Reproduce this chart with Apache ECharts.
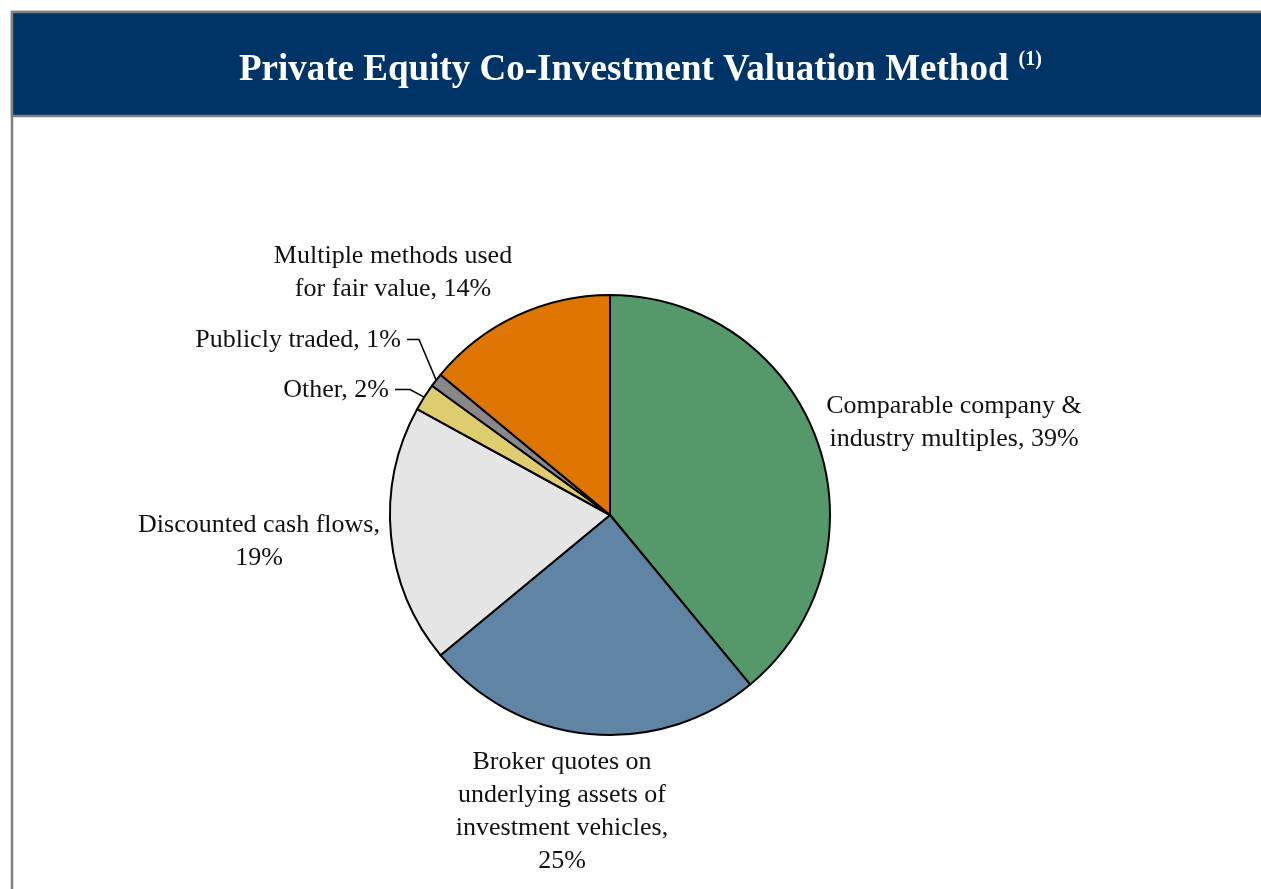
<!DOCTYPE html>
<html>
<head>
<meta charset="utf-8">
<title>Private Equity Co-Investment Valuation Method</title>
<script src="https://cdn.jsdelivr.net/npm/echarts@6/dist/echarts.min.js"></script>
<style>
  html, body { margin: 0; padding: 0; background: #fff; }
  #chart { width: 1261px; height: 889px; }
</style>
</head>
<body>
<div id="chart"></div>
<script>
// slices, clockwise from 12 o'clock
var categories = [
  'Comparable company &\nindustry multiples',
  'Broker quotes on\nunderlying assets of\ninvestment vehicles',
  'Discounted cash flows',
  'Other',
  'Publicly traded',
  'Multiple methods used\nfor fair value'
];
var shares = [39, 25, 19, 2, 1, 14];
// what goes between the name and the percentage
var valueBreak = [' ', '\n', '\n', ' ', ' ', ' '];
var sliceColors = ['#55996a', '#6084a4', '#e5e5e5', '#decd6e', '#888888', '#dd7500'];

var serif = "'Liberation Serif', 'Times New Roman', serif";

// label anchors (px) and which ones get a leader line
var labelSpots = {
  0: { x: 954, y: 423, align: 'center' },
  1: { x: 562, y: 812, align: 'center' },
  2: { x: 259, y: 542, align: 'center' },
  3: { x: 389, y: 390, align: 'right', corner: [410, 389.5], end: [395, 389.5] },
  4: { x: 401, y: 340, align: 'right', corner: [419, 339.5], end: [407, 339.5] },
  5: { x: 393, y: 273, align: 'center' }
};

var pieData = [];
for (var i = 0; i < categories.length; i++) {
  var withLine = !!labelSpots[i].corner;
  pieData.push({
    name: categories[i],
    value: shares[i],
    itemStyle: { color: sliceColors[i] },
    labelLine: { show: withLine }
  });
}

var myChart = echarts.init(document.getElementById('chart'), null, { renderer: 'canvas' });

var option = {
  backgroundColor: '#ffffff',
  animation: false,
  title: {
    text: '{t|Private Equity Co-Investment Valuation Method}  {s|(1)}',
    left: 234,
    top: 45,
    textStyle: {
      rich: {
        t: { fontFamily: serif, fontWeight: 'bold', fontSize: 37, lineHeight: 40, color: '#ffffff' },
        s: { fontFamily: serif, fontWeight: 'bold', fontSize: 20, lineHeight: 20, color: '#ffffff', verticalAlign: 'top' }
      }
    },
    z: 20
  },
  graphic: [
    {
      type: 'rect',
      z: 0,
      shape: { x: 12, y: 12, width: 1262, height: 900 },
      style: { fill: '#ffffff', stroke: '#808080', lineWidth: 2.5 }
    },
    {
      type: 'rect',
      z: 1,
      shape: { x: 12, y: 12, width: 1262, height: 104 },
      style: { fill: '#003366', stroke: '#808080', lineWidth: 2.5 }
    }
  ],
  series: [
    {
      type: 'pie',
      center: [610, 515],
      radius: 220,
      startAngle: 90,
      clockwise: true,
      avoidLabelOverlap: false,
      z: 5,
      itemStyle: { borderColor: '#000000', borderWidth: 2 },
      emphasis: { disabled: true },
      label: {
        show: true,
        position: 'outside',
        alignTo: 'none',
        overflow: 'none',
        fontFamily: serif,
        fontSize: 26,
        lineHeight: 33,
        color: '#111111',
        formatter: function (p) {
          return categories[p.dataIndex] + ',' + valueBreak[p.dataIndex] + p.value + '%';
        }
      },
      labelLine: {
        lineStyle: { color: '#000000', width: 1.5 }
      },
      labelLayout: function (params) {
        var spot = labelSpots[params.dataIndex];
        var out = { x: spot.x, y: spot.y, align: spot.align, verticalAlign: 'middle' };
        if (spot.corner && params.labelLinePoints) {
          out.labelLinePoints = [params.labelLinePoints[0], spot.corner, spot.end];
        }
        return out;
      },
      data: pieData
    }
  ]
};

myChart.setOption(option);
</script>
</body>
</html>
